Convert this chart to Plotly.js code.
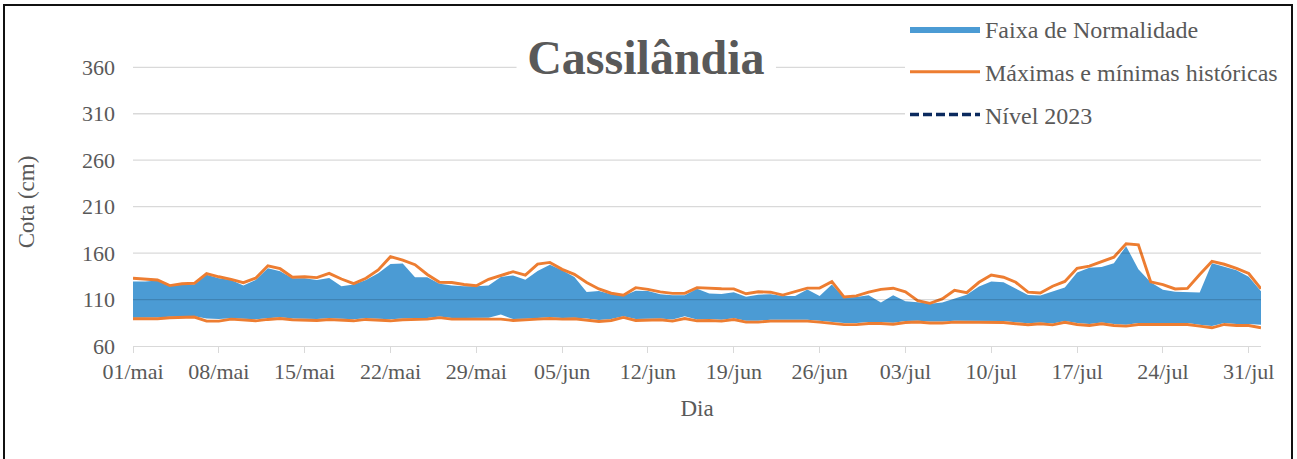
<!DOCTYPE html>
<html><head><meta charset="utf-8">
<script src="https://cdn.plot.ly/plotly-3.0.1.min.js"></script>
<style>
html,body{margin:0;padding:0;background:#fff;}
#wrap{position:relative;width:1297px;height:459px;overflow:hidden;}
#chart{position:absolute;left:0;top:0;width:1297px;height:459px;}
#frame{position:absolute;left:3px;top:4px;width:1286px;height:470px;border:2px solid #111;pointer-events:none;}
</style></head><body>
<div id="wrap"><div id="chart"></div><div id="frame"></div></div>
<script>
const tickLabels = ['01/mai','08/mai','15/mai','22/mai','29/mai','05/jun','12/jun','19/jun','26/jun','03/jul','10/jul','17/jul','24/jul','31/jul'];
const maxHist = [133,132,131,125,127,127.5,138,134.5,131.8,128.2,
 133,146.4,143.2,134,134.6,133.6,138.2,132.1,127.1,132.9,
 141.8,156.1,152.5,147.5,137,128.6,128.4,126.2,124.8,131.8,
 136,140,136.3,148.2,150,142.5,137.2,128.3,121.4,116.8,
 114.6,122.8,121,118.2,116.6,116.6,122.8,122,121.6,121.5,
 116.2,118.4,117.9,114.8,118.9,122.3,122.5,129.3,112.7,114,
 117.9,120.9,122.2,118.4,108.9,105.9,110.7,120,117.5,128.6,
 136.3,134,128.6,118,117.1,124.3,129.5,143.6,146,151.1,
 155.6,170,168.9,129.1,126,121.4,122,137,151,148,
 143.6,138,121.5];
const minHist = [89.3,89.3,89.3,90.4,91.2,91.2,86.8,86.8,88.9,88.2,
 87.1,88.6,89.6,88.2,87.5,87.5,88.6,88.2,87.1,88.6,
 87.9,87.1,88.2,88.6,88.9,90.5,88.9,88.9,88.9,88.9,
 88.9,87.5,87.9,88.9,89.6,88.9,89.3,88.2,86.4,87.5,
 90.8,87.5,88.2,88.2,86.8,89.6,87.1,87.5,86.8,88.5,
 85.7,85.7,86.8,86.8,87.5,86.8,85.7,84.6,83,83,
 84.2,84.2,83.4,85.3,85.9,84.8,84.8,85.7,85.7,85.9,
 85.7,85.3,84,82.9,83.9,82.7,85.5,83.2,82.1,83.9,
 82.1,81.4,83.2,83.2,83.2,83.2,83.2,81.4,79.6,83.2,
 82.1,82.1,79.6];
const bandUpper = [129.3,129.3,130.4,124.3,126.1,126.1,136.8,132.9,131.1,125,
 131.1,143.6,140.4,132.9,132.9,131.1,133.2,124.3,126.1,131.1,
 138.2,148.2,148.9,133.9,133.9,127,125.2,124.3,124.3,125,
 134.2,136,131.4,140.7,147.5,141.6,134.4,118.2,119.2,115.7,
 114,119.6,119.2,115.7,114.5,114.5,121.6,116.6,116.1,117.8,
 113,115.2,115.6,113.8,113.9,120.7,113.9,126.1,112.1,112.8,
 114.6,106.7,114.6,108.2,107.1,105.6,106.8,111,115.2,124.1,
 129.5,128.7,121.6,115,114.3,118.9,123,139,144.2,145,
 149.1,167.5,142.5,128.6,120.6,118.4,117.9,117.7,149.1,145.7,
 141.6,134.5,118.9];
const bandLower = [90.5,90.5,90.8,91.5,92,92,89.5,89,90,89.5,
 88.8,90,91,89.5,89,89,90,89.5,88.8,90,
 89.2,88.8,89.5,90,90.2,91.8,90.2,90.2,90.2,90.5,
 94,89,89.2,90.2,91,90.2,90.5,89.5,88,89,
 92,89,89.5,89.5,88.5,92,88.5,89,88.3,90,
 87.2,87.2,88.3,88.3,89,88.3,87.2,86.2,84.8,84.8,
 85.8,85.8,85,86.8,87.3,86.3,86.3,87.2,87.2,87.4,
 87.2,86.8,85.6,84.5,85.4,84.3,87,84.8,83.7,85.4,
 83.7,83,84.8,84.8,84.8,84.8,84.8,83,81.5,84.8,
 83.7,83.7,82.8];
// No 2023 readings are drawn in the reference: a single empty point keeps the legend entry.
const nivel2023 = [null];
const yTicks = [60,110,160,210,260,310,360];

const dates = [];
for (let i = 0; i < maxHist.length; i++) {
  const d = new Date(Date.UTC(2023, 4, 1 + i));
  dates.push(d.toISOString().slice(0, 10));
}
const tickDates = tickLabels.map((_, k) => dates[k * 7]);

const FONT = '"Liberation Serif", "Times New Roman", serif';
const GRAY = '#595959';
const BLUE = '#4b9bd4';
const ORANGE = '#ED7D31';
const NAVY = '#0b2a5e';

const traces = [
  {x: dates, y: bandLower, type: 'scatter', mode: 'lines', line: {width: 0, color: BLUE},
   showlegend: false, legendgroup: 'faixa', hoverinfo: 'skip'},
  {x: dates, y: bandUpper, type: 'scatter', mode: 'lines', line: {width: 0, color: BLUE},
   fill: 'tonexty', fillcolor: BLUE, name: 'Faixa de Normalidade', legendgroup: 'faixa'},
  {x: dates, y: maxHist, type: 'scatter', mode: 'lines', line: {width: 2.9, color: ORANGE},
   name: 'Máximas e mínimas históricas', legendgroup: 'hist'},
  {x: dates, y: minHist, type: 'scatter', mode: 'lines', line: {width: 2.9, color: ORANGE},
   name: 'Máximas e mínimas históricas', legendgroup: 'hist', showlegend: false},
  {x: dates.slice(0, nivel2023.length), y: nivel2023, type: 'scatter', mode: 'lines',
   line: {width: 3.5, color: NAVY, dash: '9px,4px'}, name: 'Nível 2023', legendgroup: 'nivel', showlegend: true}
];

const shapes = yTicks.filter(v => v !== yTicks[0]).map(v => ({
  type: 'line', xref: 'paper', x0: 0, x1: 1, yref: 'y', y0: v, y1: v,
  line: {color: 'rgba(0,0,0,0.15)', width: 1.3}, layer: 'above'
}));
shapes.push({type: 'rect', xref: 'paper', x0: 0.340, x1: 0.570, yref: 'paper', y0: 0.93, y1: 1.07,
  fillcolor: '#ffffff', line: {width: 0}, layer: 'above'});

const layout = {
  width: 1297, height: 459,
  margin: {l: 133, r: 36, t: 58, b: 113, pad: 0, autoexpand: false},
  paper_bgcolor: '#ffffff', plot_bgcolor: '#ffffff',
  font: {family: FONT, color: GRAY, size: 22},
  title: {text: '<b>Cassilândia</b>', font: {family: FONT, size: 48, color: GRAY},
    x: 0.498, xanchor: 'center', xref: 'container', y: 0.876, yanchor: 'middle', yref: 'container'},
  xaxis: {type: 'date', range: [dates[0], dates[dates.length - 1]], tickmode: 'array',
    tickvals: tickDates, ticktext: tickLabels, ticks: 'outside', ticklen: 6, tickcolor: '#d9d9d9',
    tickwidth: 1, showline: true, linecolor: '#d9d9d9', linewidth: 1, showgrid: false, zeroline: false,
    tickangle: 0, automargin: false,
    tickfont: {family: FONT, size: 22, color: GRAY}, ticklabelstandoff: 0,
    title: {text: 'Dia', font: {family: FONT, size: 23, color: GRAY}, standoff: 16}},
  yaxis: {range: [60, 370], tickmode: 'array', tickvals: yTicks, ticks: '', showgrid: false,
    zeroline: false, showline: false, automargin: false, tickfont: {family: FONT, size: 22, color: GRAY}, ticklabelstandoff: 17,
    title: {text: 'Cota (cm)', font: {family: FONT, size: 23, color: GRAY}, standoff: 40}},
  legend: {x: 905 / 1297, xref: 'container', xanchor: 'left', y: 1 - 7 / 459, yref: 'container', yanchor: 'top',
    bgcolor: '#ffffff', borderwidth: 0, font: {family: FONT, size: 24, color: GRAY},
    traceorder: 'grouped', tracegroupgap: 8.5, itemwidth: 70},
  shapes: shapes,
  showlegend: true
};

Plotly.newPlot('chart', traces, layout, {displayModeBar: false, staticPlot: true});
</script>
</body></html>
